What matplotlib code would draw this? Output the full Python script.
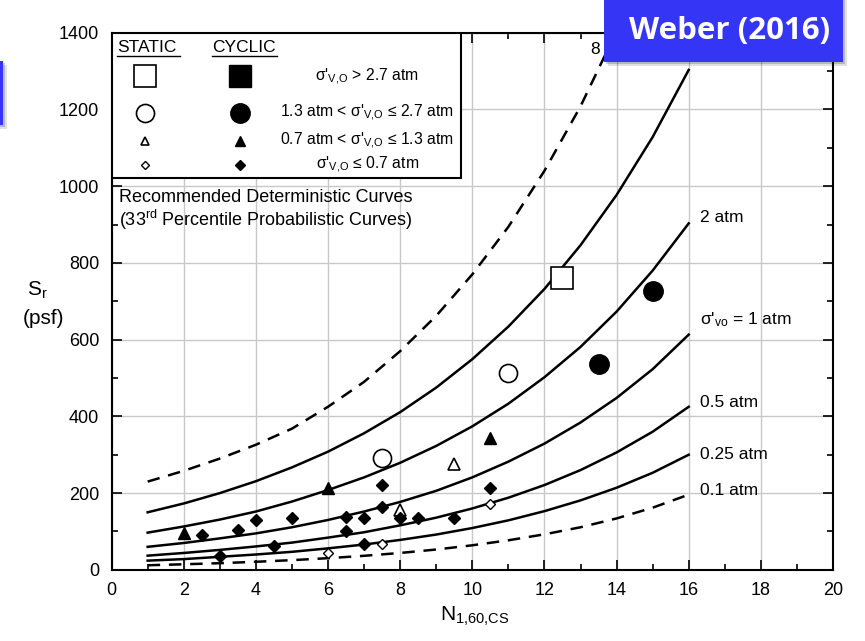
import matplotlib
matplotlib.use("Agg")
import matplotlib.pyplot as plt
from matplotlib.patches import Rectangle
import numpy as np

plt.rcParams['font.family'] = ['Liberation Sans', 'DejaVu Sans']
plt.rcParams['mathtext.default'] = 'regular'

# curves (N1,60,CS vs Sr in psf)
n_curve = [1, 2, 3, 4, 5, 6, 7, 8, 9, 10, 11, 12, 13, 14, 15, 16]
sr_8atm = [230, 258, 290, 326, 368, 425, 490, 570, 662, 770, 894, 1040, 1208, 1404]
sr_4atm = [150, 173, 200, 231, 267, 308, 356, 411, 475, 549, 634, 732, 846, 977, 1128, 1303]
sr_2atm = [97, 113, 131, 152, 178, 208, 241, 279, 323, 374, 433, 502, 581, 673, 780, 903]
sr_1atm = [60, 70, 82, 95, 111, 130, 152, 177, 206, 241, 282, 329, 384, 448, 523, 613]
sr_05atm = [37, 44, 52, 61, 71, 84, 98, 116, 136, 160, 188, 221, 260, 306, 360, 425]
sr_025atm = [24, 28, 34, 40, 47, 56, 66, 78, 92, 109, 129, 153, 181, 214, 253, 300]
sr_01atm = [12, 14.5, 17.4, 21, 25.3, 30.4, 36.6, 44, 53, 64, 77, 92.6, 111, 134, 162, 196]

# case history points
static_sq_n, static_sq_s = [12.5], [760]
static_ci_n, static_ci_s = [7.5, 11.0], [292, 514]
cyclic_ci_n, cyclic_ci_s = [13.5, 15.0], [537, 726]
static_tr_n, static_tr_s = [8.0, 9.5], [156, 276]
cyclic_tr_n, cyclic_tr_s = [2.0, 6.0, 10.5], [96, 213, 343]
static_di_n, static_di_s = [6.0, 7.5, 10.5], [45, 67, 172]
cyclic_di_n = [2.5, 3.0, 3.5, 4.0, 4.5, 5.0, 6.5, 6.5, 7.0, 7.0, 7.5, 7.5, 8.0, 8.5, 9.5, 10.5]
cyclic_di_s = [91, 36, 104, 129, 63, 135, 139, 100, 136, 67, 222, 165, 136, 135, 135, 213]

fig = plt.figure(figsize=(8.65, 6.41), dpi=100)
ax = fig.add_axes([0.129, 0.111, 0.834, 0.838])

# grid
ax.set_xlim(0, 20)
ax.set_ylim(0, 1400)
ax.set_xticks(np.arange(0, 21, 2))
ax.set_xticks(np.arange(0, 21, 1), minor=True)
ax.set_yticks(np.arange(0, 1401, 200))
ax.set_yticks(np.arange(0, 1401, 100), minor=True)
ax.grid(True, which='major', color='#c8c8c8', lw=1.0)
ax.set_axisbelow(True)
ax.tick_params(which='both', direction='in', top=True, right=True, labelsize=13)
ax.tick_params(axis='x', which='major', pad=9)
ax.tick_params(axis='y', which='major', pad=9)
ax.tick_params(which='major', length=7, width=1.2)
ax.tick_params(which='minor', length=4, width=1.2)
for sp in ax.spines.values():
    sp.set_linewidth(1.5)

# curves
ax.plot(n_curve[:len(sr_8atm)], sr_8atm, color='black', lw=1.8, dashes=(5, 3.5))
for vals in [sr_4atm, sr_2atm, sr_1atm, sr_05atm, sr_025atm]:
    ax.plot(n_curve, vals, color='black', lw=1.8)
ax.plot(n_curve, sr_01atm, color='black', lw=1.8, dashes=(5, 3.5))

# points
ax.plot(static_sq_n, static_sq_s, 's', ms=16, mfc='white', mec='black', mew=1.2)
ax.plot(static_ci_n, static_ci_s, 'o', ms=13, mfc='white', mec='black', mew=1.2)
ax.plot(cyclic_ci_n, cyclic_ci_s, 'o', ms=14, color='black')
ax.plot(static_tr_n, static_tr_s, '^', ms=8, mfc='white', mec='black', mew=1.2)
ax.plot(cyclic_tr_n, cyclic_tr_s, '^', ms=9, color='black')
ax.plot(static_di_n, static_di_s, 'D', ms=5, mfc='white', mec='black', mew=1.0)
ax.plot(cyclic_di_n, cyclic_di_s, 'D', ms=6, color='black')

# curve labels
lab_kw = dict(fontsize=12.5, va='center', ha='left')
ax.text(16.3, 918, '2 atm', **lab_kw)
ax.text(16.3, 652, "σ'$_{vo}$ = 1 atm", **lab_kw)
ax.text(16.3, 435, '0.5 atm', **lab_kw)
ax.text(16.3, 300, '0.25 atm', **lab_kw)
ax.text(16.3, 208, '0.1 atm', **lab_kw)
ax.text(13.3, 1356, '8 atm', **lab_kw)

# legend box
ax.add_patch(Rectangle((0, 1020), 9.7, 380, facecolor='white', edgecolor='black', lw=1.5, zorder=3))
ax.text(0.15, 1362, 'STATIC', fontsize=12.5, va='center', zorder=4)
ax.text(2.78, 1362, 'CYCLIC', fontsize=12.5, va='center', zorder=4)
ax.plot([0.15, 1.9], [1340, 1340], color='black', lw=1.0, zorder=4)
ax.plot([2.78, 4.58], [1340, 1340], color='black', lw=1.0, zorder=4)
rows_s = [1286, 1190, 1117, 1056]
ax.plot([0.93], [rows_s[0]], 's', ms=16, mfc='white', mec='black', mew=1.2, zorder=4)
ax.plot([3.56], [rows_s[0]], 's', ms=16, color='black', zorder=4)
ax.plot([0.93], [rows_s[1]], 'o', ms=13, mfc='white', mec='black', mew=1.2, zorder=4)
ax.plot([3.56], [rows_s[1]], 'o', ms=14, color='black', zorder=4)
ax.plot([0.93], [rows_s[2]], '^', ms=6, mfc='white', mec='black', mew=1.2, zorder=4)
ax.plot([3.56], [rows_s[2]], '^', ms=7, color='black', zorder=4)
ax.plot([0.93], [rows_s[3]], 'D', ms=4, mfc='white', mec='black', mew=1.0, zorder=4)
ax.plot([3.56], [rows_s[3]], 'D', ms=5, color='black', zorder=4)
leg_txt = ["σ'$_{V{,}O}$ > 2.7 atm",
           "1.3 atm < σ'$_{V{,}O}$ ≤ 2.7 atm",
           "0.7 atm < σ'$_{V{,}O}$ ≤ 1.3 atm",
           "σ'$_{V{,}O}$ ≤ 0.7 atm"]
for s, t in zip(rows_s, leg_txt):
    ax.text(7.09, s, t, fontsize=11.3, ha='center', va='center', zorder=4)

ax.text(0.2, 970, 'Recommended Deterministic Curves', fontsize=13, va='center')
ax.text(0.2, 912, '(33$^{rd}$ Percentile Probabilistic Curves)', fontsize=13, va='center')

# axis labels
fig.text(37 / 865, 1 - 290 / 641, 'S$_r$', fontsize=15, ha='center', va='center')
fig.text(44 / 865, 1 - 318 / 641, '(psf)', fontsize=15, ha='center', va='center')
fig.text(440 / 865, 1 - 621 / 641, 'N$_{1{,}60{,}CS}$', fontsize=15, ha='left', va='baseline')

# slide decorations
for off, a in [(4, 0.12), (2, 0.18)]:
    fig.add_artist(Rectangle(((604 + off) / 865, 1 - (62 + off) / 641), 239 / 865, (62 + off) / 641,
                             transform=fig.transFigure, facecolor='black', alpha=a, lw=0, zorder=9))
    fig.add_artist(Rectangle((0, 1 - (125 + off) / 641), (3 + off) / 865, 64 / 641,
                             transform=fig.transFigure, facecolor='black', alpha=a, lw=0, zorder=9))
fig.add_artist(Rectangle((604 / 865, 1 - 62 / 641), 239 / 865, 62 / 641,
                         transform=fig.transFigure, facecolor='#3535f5', lw=0, zorder=10))
fig.add_artist(Rectangle((0, 1 - 125 / 641), 3 / 865, 64 / 641,
                         transform=fig.transFigure, facecolor='#3535f5', lw=0, zorder=10))
fig.text(730 / 865, 1 - 31 / 641, 'Weber (2016)', fontsize=22.5, fontweight='bold', color='white',
         family=['Open Sans', 'DejaVu Sans'], ha='center', va='center', zorder=11)

fig.savefig('out.png', dpi=100)
